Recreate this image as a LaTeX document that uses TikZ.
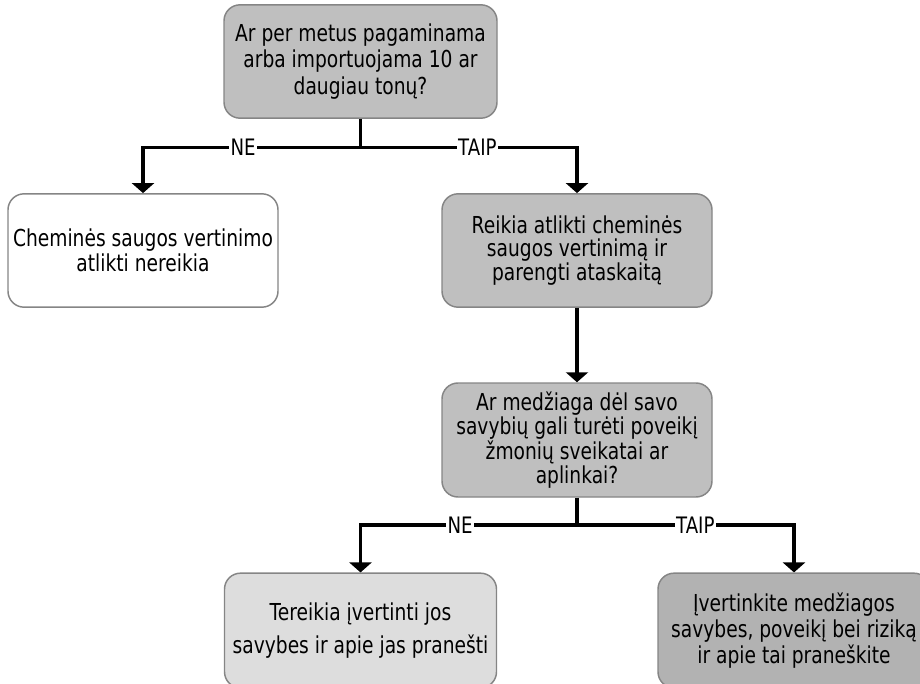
\documentclass[tikz,border=0pt]{standalone}
\usepackage{fontspec}
\setmainfont[FakeStretch=0.8]{DejaVu Sans}
\usetikzlibrary{arrows.meta}

\definecolor{boxedge}{HTML}{858585}
\definecolor{midgray}{HTML}{BFBFBF}
\definecolor{lightgray}{HTML}{DDDDDD}
\definecolor{darkgray}{HTML}{B2B2B2}

\tikzset{
  box/.style={draw=boxedge, line width=1.1pt, rounded corners=12pt,
    minimum width=202.5pt, minimum height=85pt, inner sep=0pt,
    align=center, text=black},
  txt/.style={font=\fontsize{17.5}{#1}\selectfont},
  conn/.style={line width=2.8pt, draw=black},
  arr/.style={conn, -{Triangle[width=16.5pt,length=7.5pt]}},
  lab/.style={fill=white, inner sep=1pt, font=\fontsize{17}{20}\selectfont}
}

\begin{document}
\begin{tikzpicture}[x=0.75pt, y=-0.75pt]
  \useasboundingbox (0,0) rectangle (920,684);
  \clip (0,0) rectangle (920,684);

  % decision boxes and outcomes
  \node[box, fill=midgray, txt=20pt, minimum width=204.75pt] (q1) at (360.5,61.5)
    {Ar per metus pagaminama\\arba importuojama 10 ar\\daugiau tonų?};
  \node[box, fill=white, txt=19pt] (no1) at (143,250.5)
    {Cheminės saugos vertinimo\\atlikti nereikia};
  \node[box, fill=midgray, txt=17.6pt] (yes1) at (577,250.5)
    {Reikia atlikti cheminės\\saugos vertinimą ir\\parengti ataskaitą};
  \node[box, fill=midgray, txt=16pt, minimum height=85.5pt] (q2) at (577,440)
    {Ar medžiaga dėl savo\\savybių gali turėti poveikį\\žmonių sveikatai ar\\aplinkai?};
  \node[box, fill=lightgray, txt=24.5pt, minimum width=204pt, minimum height=86pt] (no2) at (360.5,630.5)
    {Tereikia įvertinti jos\\savybes ir apie jas pranešti};
  \node[box, fill=darkgray, txt=19.5pt, minimum width=204pt, minimum height=86pt] (yes2) at (794,630.5)
    {Įvertinkite medžiagos\\savybes, poveikį bei riziką\\ir apie tai praneškite};

  % branch points
  \coordinate (j1) at (360.5,147.5);
  \coordinate (j2) at (577,525);
  \coordinate (j1l) at (no1.north |- j1);
  \coordinate (j1r) at (yes1.north |- j1);
  \coordinate (j2l) at (no2.north |- j2);
  \coordinate (j2r) at (yes2.north |- j2);

  % connectors
  \draw[conn] (q1.south) -- (j1);
  \draw[arr] (j1) -- node[lab, pos=0.54] {NE} (j1l) -- (no1.north);
  \draw[arr] (j1) -- node[lab, pos=0.54] {TAIP} (j1r) -- (yes1.north);
  \draw[arr] (yes1.south) -- (q2.north);
  \draw[conn] (q2.south) -- (j2);
  \draw[arr] (j2) -- node[lab, pos=0.54] {NE} (j2l) -- (no2.north);
  \draw[arr] (j2) -- node[lab, pos=0.545] {TAIP} (j2r) -- (yes2.north);
\end{tikzpicture}
\end{document}
